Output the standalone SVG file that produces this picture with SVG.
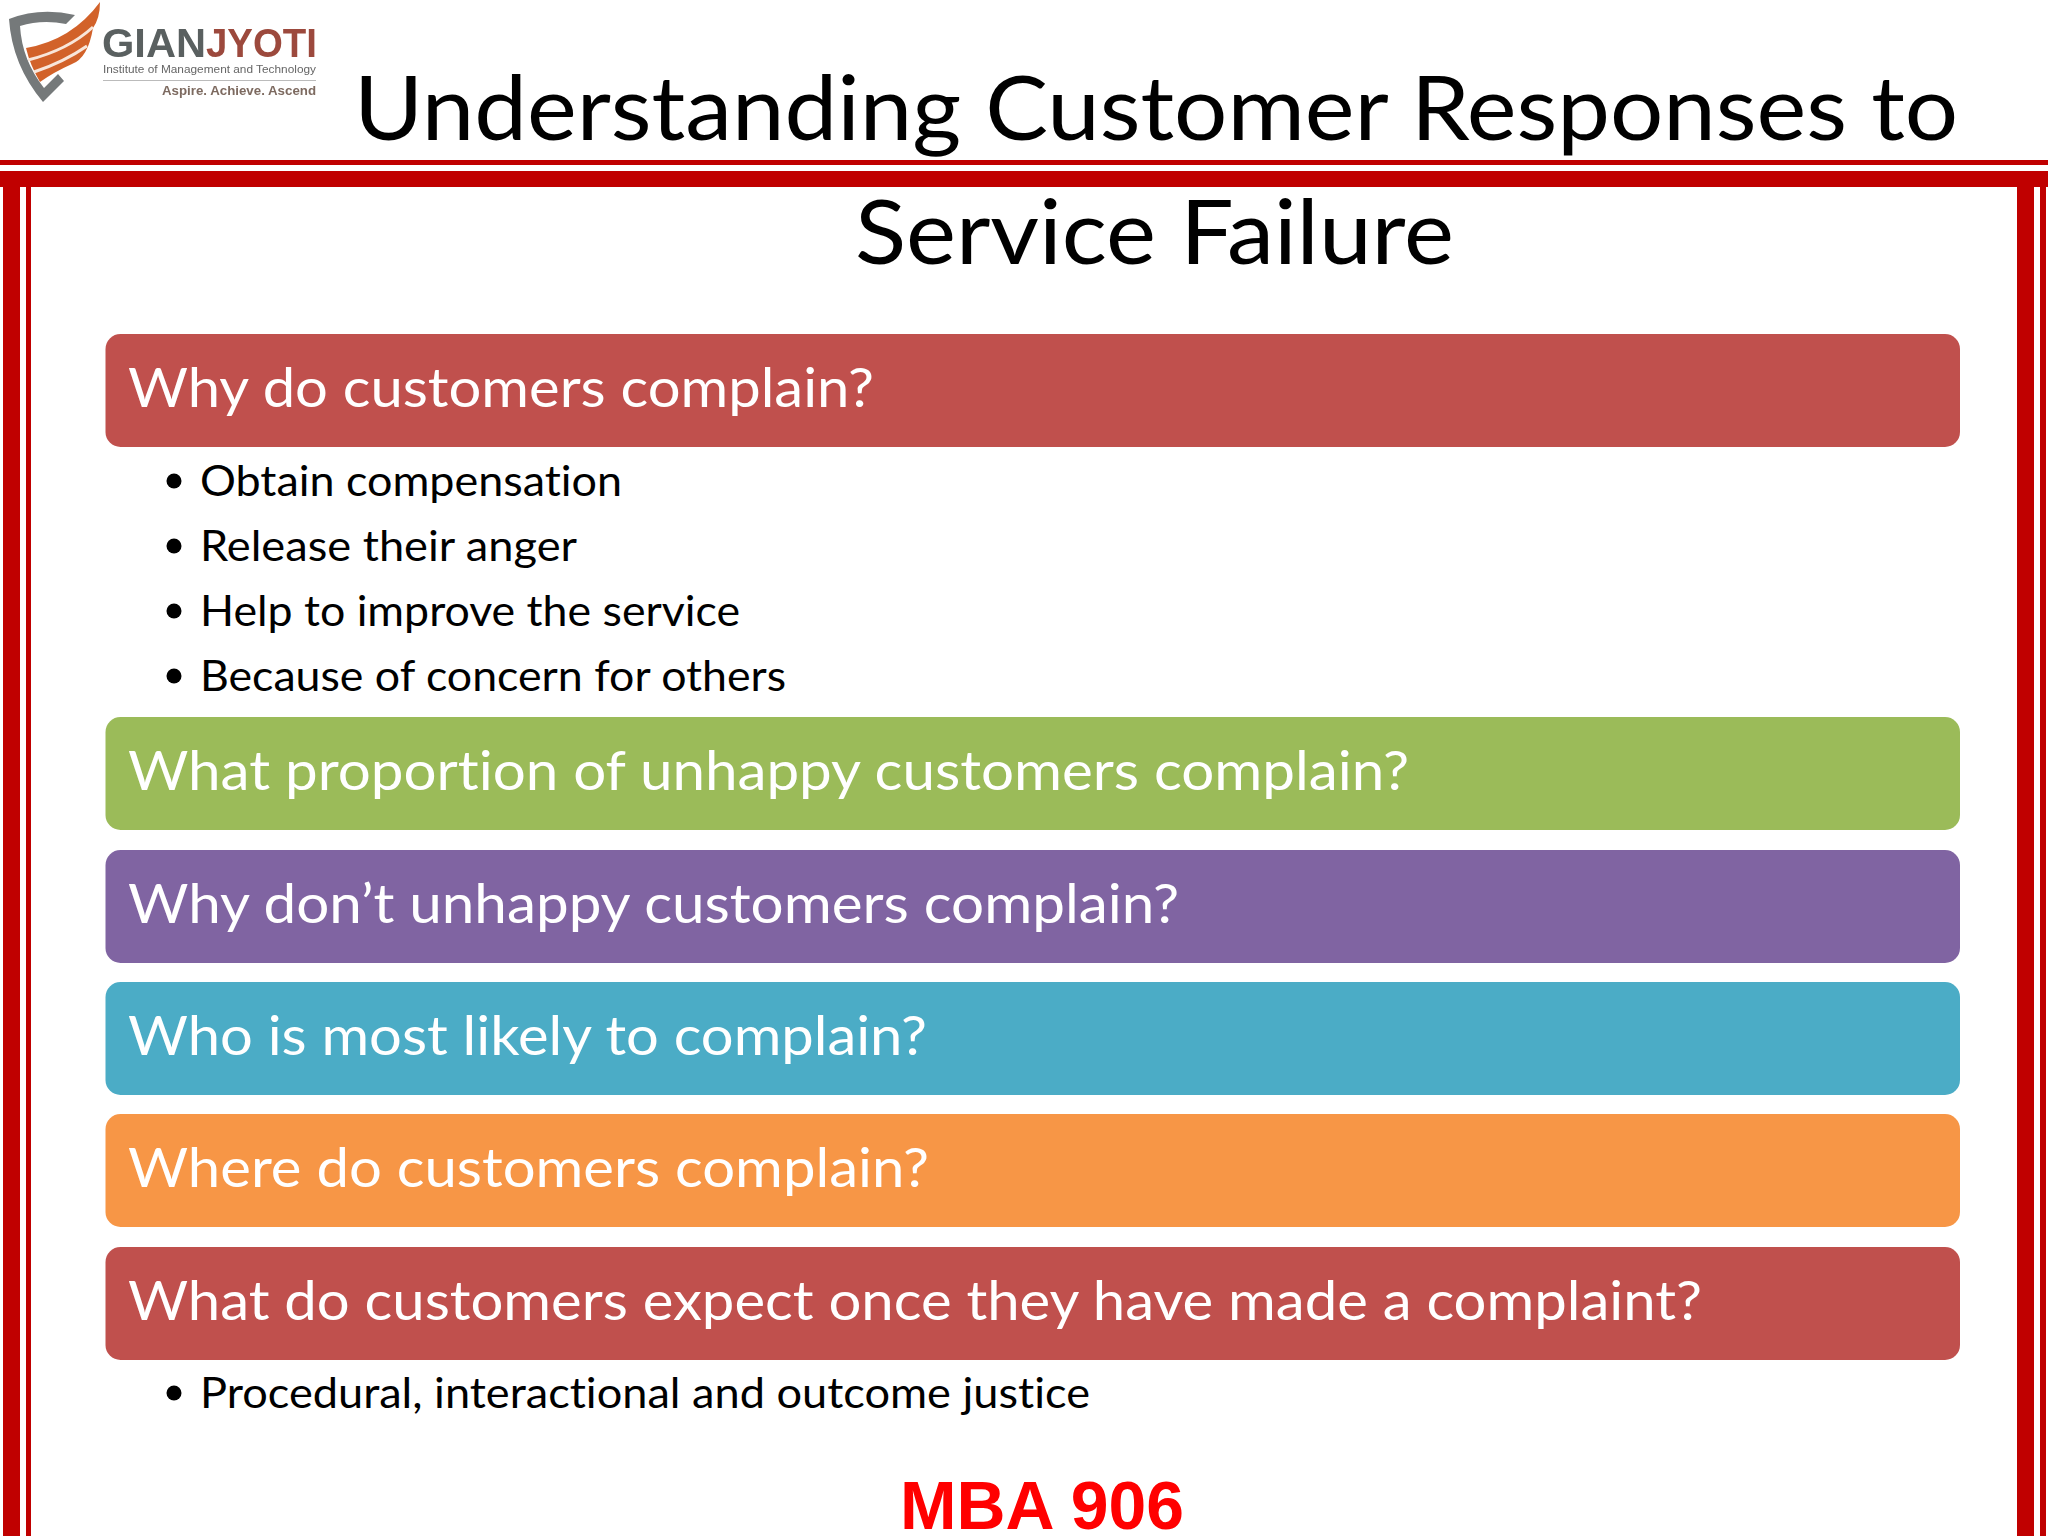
<svg xmlns="http://www.w3.org/2000/svg" width="2048" height="1536" viewBox="0 0 2048 1536">
<style>
.rule{fill:#c00000}
text{font-variant-ligatures:none}
.bar text{font-family:Lato,"Liberation Sans",sans-serif;font-size:54px;fill:#fff}
.body{font-family:Lato,"Liberation Sans",sans-serif;font-size:42px;fill:#000}
.title{font-family:Lato,"Liberation Sans",sans-serif;font-size:90px;fill:#000}
.bul{fill:#000}
</style>
<defs><filter id="soft" x="-5%" y="-5%" width="110%" height="110%"><feGaussianBlur stdDeviation="0.7"/></filter></defs>
<rect width="2048" height="1536" fill="#fff"/>
<g id="frame">
<rect class="rule" x="0" y="160" width="2048" height="5"/>
<rect class="rule" x="0" y="171" width="2048" height="16"/>
<rect class="rule" x="3" y="187" width="17" height="1349"/>
<rect class="rule" x="26" y="187" width="5" height="1349"/>
<rect class="rule" x="2017" y="187" width="17" height="1349"/>
<rect class="rule" x="2040" y="187" width="6" height="1349"/>
</g>
<g id="logo" filter="url(#soft)">
<path d="M9 19Q40 7 75 15L66 24Q42 19 20 26Q22 60 44 88L58 74L64 81L43 102Q12 65 9 19Z" fill="#75797a"/>
<path d="M26 48Q72 40 100 2Q100 18 93 28Q88 58 72 64Q54 72 40 82Q30 65 26 48Z" fill="#d2622b"/>
<path d="M28 60Q68 50 93 27M34 72Q64 62 87 46" fill="none" stroke="#f8e6da" stroke-width="3"/>
<text x="102" y="57" font-family="Liberation Sans,sans-serif" font-size="41" font-weight="bold" fill="#5a6060" textLength="104" lengthAdjust="spacingAndGlyphs">GIAN</text>
<text x="206" y="57" font-family="Liberation Sans,sans-serif" font-size="41" font-weight="bold" fill="#9c4a3c" textLength="111" lengthAdjust="spacingAndGlyphs">JYOTI</text>
<text x="103" y="73" font-family="Liberation Sans,sans-serif" font-size="10" fill="#666" textLength="213" lengthAdjust="spacingAndGlyphs">Institute of Management and Technology</text>
<rect x="103" y="80" width="213" height="1" fill="#bbb"/>
<text x="162" y="95" font-family="Liberation Sans,sans-serif" font-size="12" font-weight="bold" fill="#7d6a60" textLength="154" lengthAdjust="spacingAndGlyphs">Aspire. Achieve. Ascend</text>
</g>
<g id="title">
<text class="title" x="354" y="140" textLength="1604" lengthAdjust="spacingAndGlyphs">Understanding Customer Responses to</text>
<text class="title" x="855" y="264" textLength="599" lengthAdjust="spacingAndGlyphs">Service Failure</text>
</g>
<g id="node-why-complain" class="bar"><rect x="105.500" y="334" width="1854.500" height="113" rx="15" fill="#c0504d"/><text x="128" y="407" textLength="746" lengthAdjust="spacingAndGlyphs">Why do customers complain?</text></g>
<g id="bullets-why">
<circle class="bul" cx="174" cy="481" r="7.500"/><text class="body" x="200" y="496" textLength="422" lengthAdjust="spacingAndGlyphs">Obtain compensation</text>
<circle class="bul" cx="174" cy="546" r="7.500"/><text class="body" x="200" y="561" textLength="377" lengthAdjust="spacingAndGlyphs">Release their anger</text>
<circle class="bul" cx="174" cy="611" r="7.500"/><text class="body" x="200" y="626" textLength="540" lengthAdjust="spacingAndGlyphs">Help to improve the service</text>
<circle class="bul" cx="174" cy="676" r="7.500"/><text class="body" x="200" y="691" textLength="586" lengthAdjust="spacingAndGlyphs">Because of concern for others</text>
</g>
<g id="node-proportion" class="bar"><rect x="105.500" y="717" width="1854.500" height="113" rx="15" fill="#9bbb59"/><text x="128" y="790" textLength="1281" lengthAdjust="spacingAndGlyphs">What proportion of unhappy customers complain?</text></g>
<g id="node-why-dont" class="bar"><rect x="105.500" y="850" width="1854.500" height="113" rx="15" fill="#8064a2"/><text x="128" y="923" textLength="1051" lengthAdjust="spacingAndGlyphs">Why don’t unhappy customers complain?</text></g>
<g id="node-who" class="bar"><rect x="105.500" y="982" width="1854.500" height="113" rx="15" fill="#4bacc6"/><text x="128" y="1055" textLength="799" lengthAdjust="spacingAndGlyphs">Who is most likely to complain?</text></g>
<g id="node-where" class="bar"><rect x="105.500" y="1114" width="1854.500" height="113" rx="15" fill="#f79646"/><text x="128" y="1187" textLength="801" lengthAdjust="spacingAndGlyphs">Where do customers complain?</text></g>
<g id="node-expect" class="bar"><rect x="105.500" y="1247" width="1854.500" height="113" rx="15" fill="#c0504d"/><text x="128" y="1320" textLength="1574" lengthAdjust="spacingAndGlyphs">What do customers expect once they have made a complaint?</text></g>
<g id="bullets-expect">
<circle class="bul" cx="174" cy="1393" r="7.500"/><text class="body" x="200" y="1408" textLength="890" lengthAdjust="spacingAndGlyphs">Procedural, interactional and outcome justice</text>
</g>
<g id="footer"><text x="900" y="1529" font-family="Liberation Sans,Arial,sans-serif" font-size="68" font-weight="bold" fill="#ff0000" textLength="284" lengthAdjust="spacingAndGlyphs">MBA 906</text></g>
<g id="connectors"/>
</svg>
